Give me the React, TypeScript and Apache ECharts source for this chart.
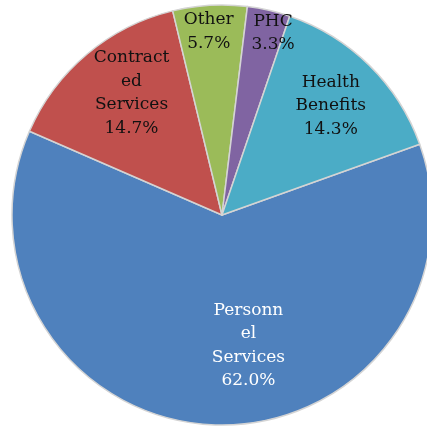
import React, { useEffect, useRef } from "react";
import * as echarts from "echarts";

const categories = ["Personnel Services", "Contracted Services", "Other", "PHC", "Health Benefits"];
const labelTexts = ["Personn\nel\nServices", "Contract\ned\nServices", "Other", "PHC", "Health\nBenefits"];
const values = [62.0, 14.7, 5.7, 3.3, 14.3];
const colors = ["#4F81BD", "#C0504D", "#9BBB59", "#8064A2", "#4BACC6"];
const labelColors = ["#ffffff", "#111111", "#111111", "#111111", "#111111"];
// label shifts from default inside position
const labelDx = [30, -21, -7, 27, 33];
const labelDy = [21, -41, -77, -78, -34];

export default function App() {
  const ref = useRef<HTMLDivElement>(null);
  useEffect(() => {
    if (!ref.current) return;
    const chart = echarts.init(ref.current, null, { renderer: "svg" });
    chart.setOption({
      animation: false,
      series: [
        {
          type: "pie",
          center: [222, 215],
          radius: 210,
          startAngle: 19.7,
          clockwise: true,
          avoidLabelOverlap: false,
          data: categories.map((c, i) => ({
            name: c,
            value: values[i],
            itemStyle: { color: colors[i] },
            label: { color: labelColors[i] },
          })),
          itemStyle: { borderColor: "#d4d4d4", borderWidth: 1.5 },
          label: {
            show: true,
            position: "inside",
            fontFamily: "DejaVu Serif",
            fontSize: 17,
            lineHeight: 23.5,
            align: "center",
            formatter: (p: any) => labelTexts[p.dataIndex] + "\n" + values[p.dataIndex].toFixed(1) + "%",
          },
          labelLine: { show: false },
          labelLayout: (p: any) => ({ dx: labelDx[p.dataIndex], dy: labelDy[p.dataIndex] }),
        },
      ],
    });
    return () => chart.dispose();
  }, []);
  return <div ref={ref} style={{ position: "fixed", left: 0, top: 0, width: 427, height: 426 }} />;
}
